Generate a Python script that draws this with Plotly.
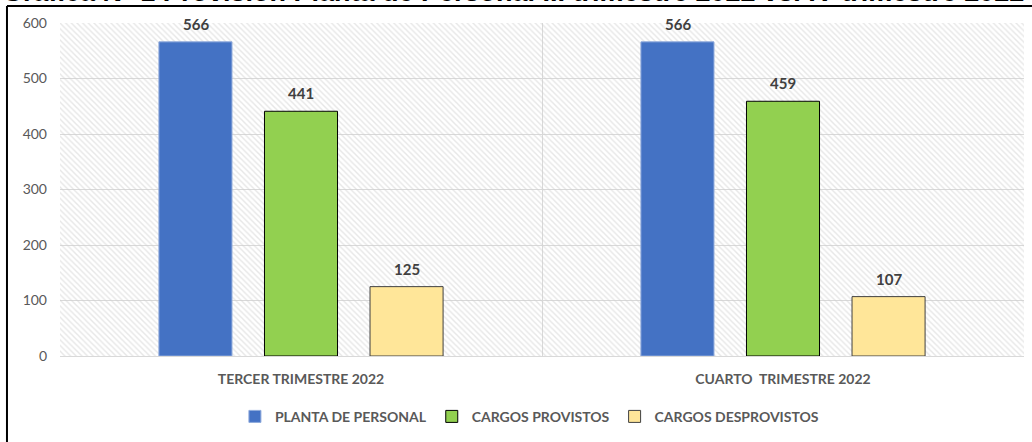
import plotly.graph_objects as go

categorias = ["TERCER TRIMESTRE 2022", "CUARTO\u00a0 TRIMESTRE 2022"]
series = ["PLANTA DE PERSONAL", "CARGOS PROVISTOS", "CARGOS DESPROVISTOS"]
planta = [566, 566]
provistos = [441, 459]
desprovistos = [125, 107]
valores = [planta, provistos, desprovistos]

colores = ["#4472C4", "#92D050", "#FFE699"]
bordes = ["#8FAADC", "#000000", "#404040"]
titulo = "Gráfica N° 1 Provisión Planta de Personal III trimestre 2022 vs. IV trimestre 2022"

fig = go.Figure()

# fondo rayado del area de trazado
fig.add_trace(go.Bar(
    x=[0.5], y=[600], width=[1], xaxis="x", yaxis="y",
    marker=dict(color="rgba(0,0,0,0)", line=dict(width=0),
                pattern=dict(shape="\\", fgcolor="#cfcfcf", size=4, solidity=0.35,
                             fillmode="overlay")),
    showlegend=False, hoverinfo="skip",
))

for nombre, vals, c, b in zip(series, valores, colores, bordes):
    fig.add_trace(go.Bar(
        x=categorias, y=vals, name=nombre, xaxis="x2", yaxis="y",
        marker=dict(color=c, line=dict(color=b, width=1)),
    ))

desp = [-105.5, 0, 105.5]
for vals, dx in zip(valores, desp):
    for cat, v in zip(categorias, vals):
        fig.add_annotation(x=cat, y=v, xref="x2", yref="y", text=f"<b>{v}</b>",
                           showarrow=False, xshift=dx, yanchor="bottom", yshift=7,
                           font=dict(size=15, color="#404040", family="Lato"))

# titulo recortado en el borde superior, como en la imagen original
fig.add_annotation(x=-0.062, y=1.043, xref="paper", yref="paper", text=f"<b>{titulo}</b>",
                   showarrow=False, xanchor="left", yanchor="bottom",
                   font=dict(size=27, color="#000000", family="Liberation Sans"))

# marco negro (superior e izquierdo)
fig.add_shape(type="line", xref="paper", yref="paper", x0=-0.055, x1=1.01, y0=1.051, y1=1.051,
              line=dict(color="#000000", width=2))
fig.add_shape(type="line", xref="paper", yref="paper", x0=-0.055, x1=-0.055, y0=1.051, y1=-0.3,
              line=dict(color="#000000", width=2))

fig.update_layout(
    width=1032, height=442,
    margin=dict(l=60, r=8, t=23, b=86),
    paper_bgcolor="white", plot_bgcolor="white",
    barmode="group", bargap=0.343, bargroupgap=0.308,
    font=dict(family="Lato", color="#595959"),
    xaxis=dict(range=[0, 1], visible=False, fixedrange=True),
    xaxis2=dict(overlaying="x", side="bottom", tickson="boundaries", showgrid=True,
                gridcolor="#d9d9d9", gridwidth=1, ticks="", showline=False,
                tickfont=dict(size=14, color="#595959", family="Lato", weight="bold"),
                ticklabelstandoff=13),
    yaxis=dict(range=[0, 600], dtick=100, showgrid=True, gridcolor="#d9d9d9",
               zeroline=True, zerolinecolor="#d9d9d9", zerolinewidth=1,
               tickfont=dict(size=14, color="#595959", family="Lato"), ticklabelstandoff=12),
    legend=dict(orientation="h", xref="container", x=0.513, xanchor="center",
                yref="container", y=0.057, yanchor="middle",
                font=dict(size=14, color="#595959", family="Lato", weight="bold"),
                itemwidth=30, traceorder="normal"),
)

fig.write_html("out.html", config={"displayModeBar": False},
               post_script="document.body.style.margin='0';")
